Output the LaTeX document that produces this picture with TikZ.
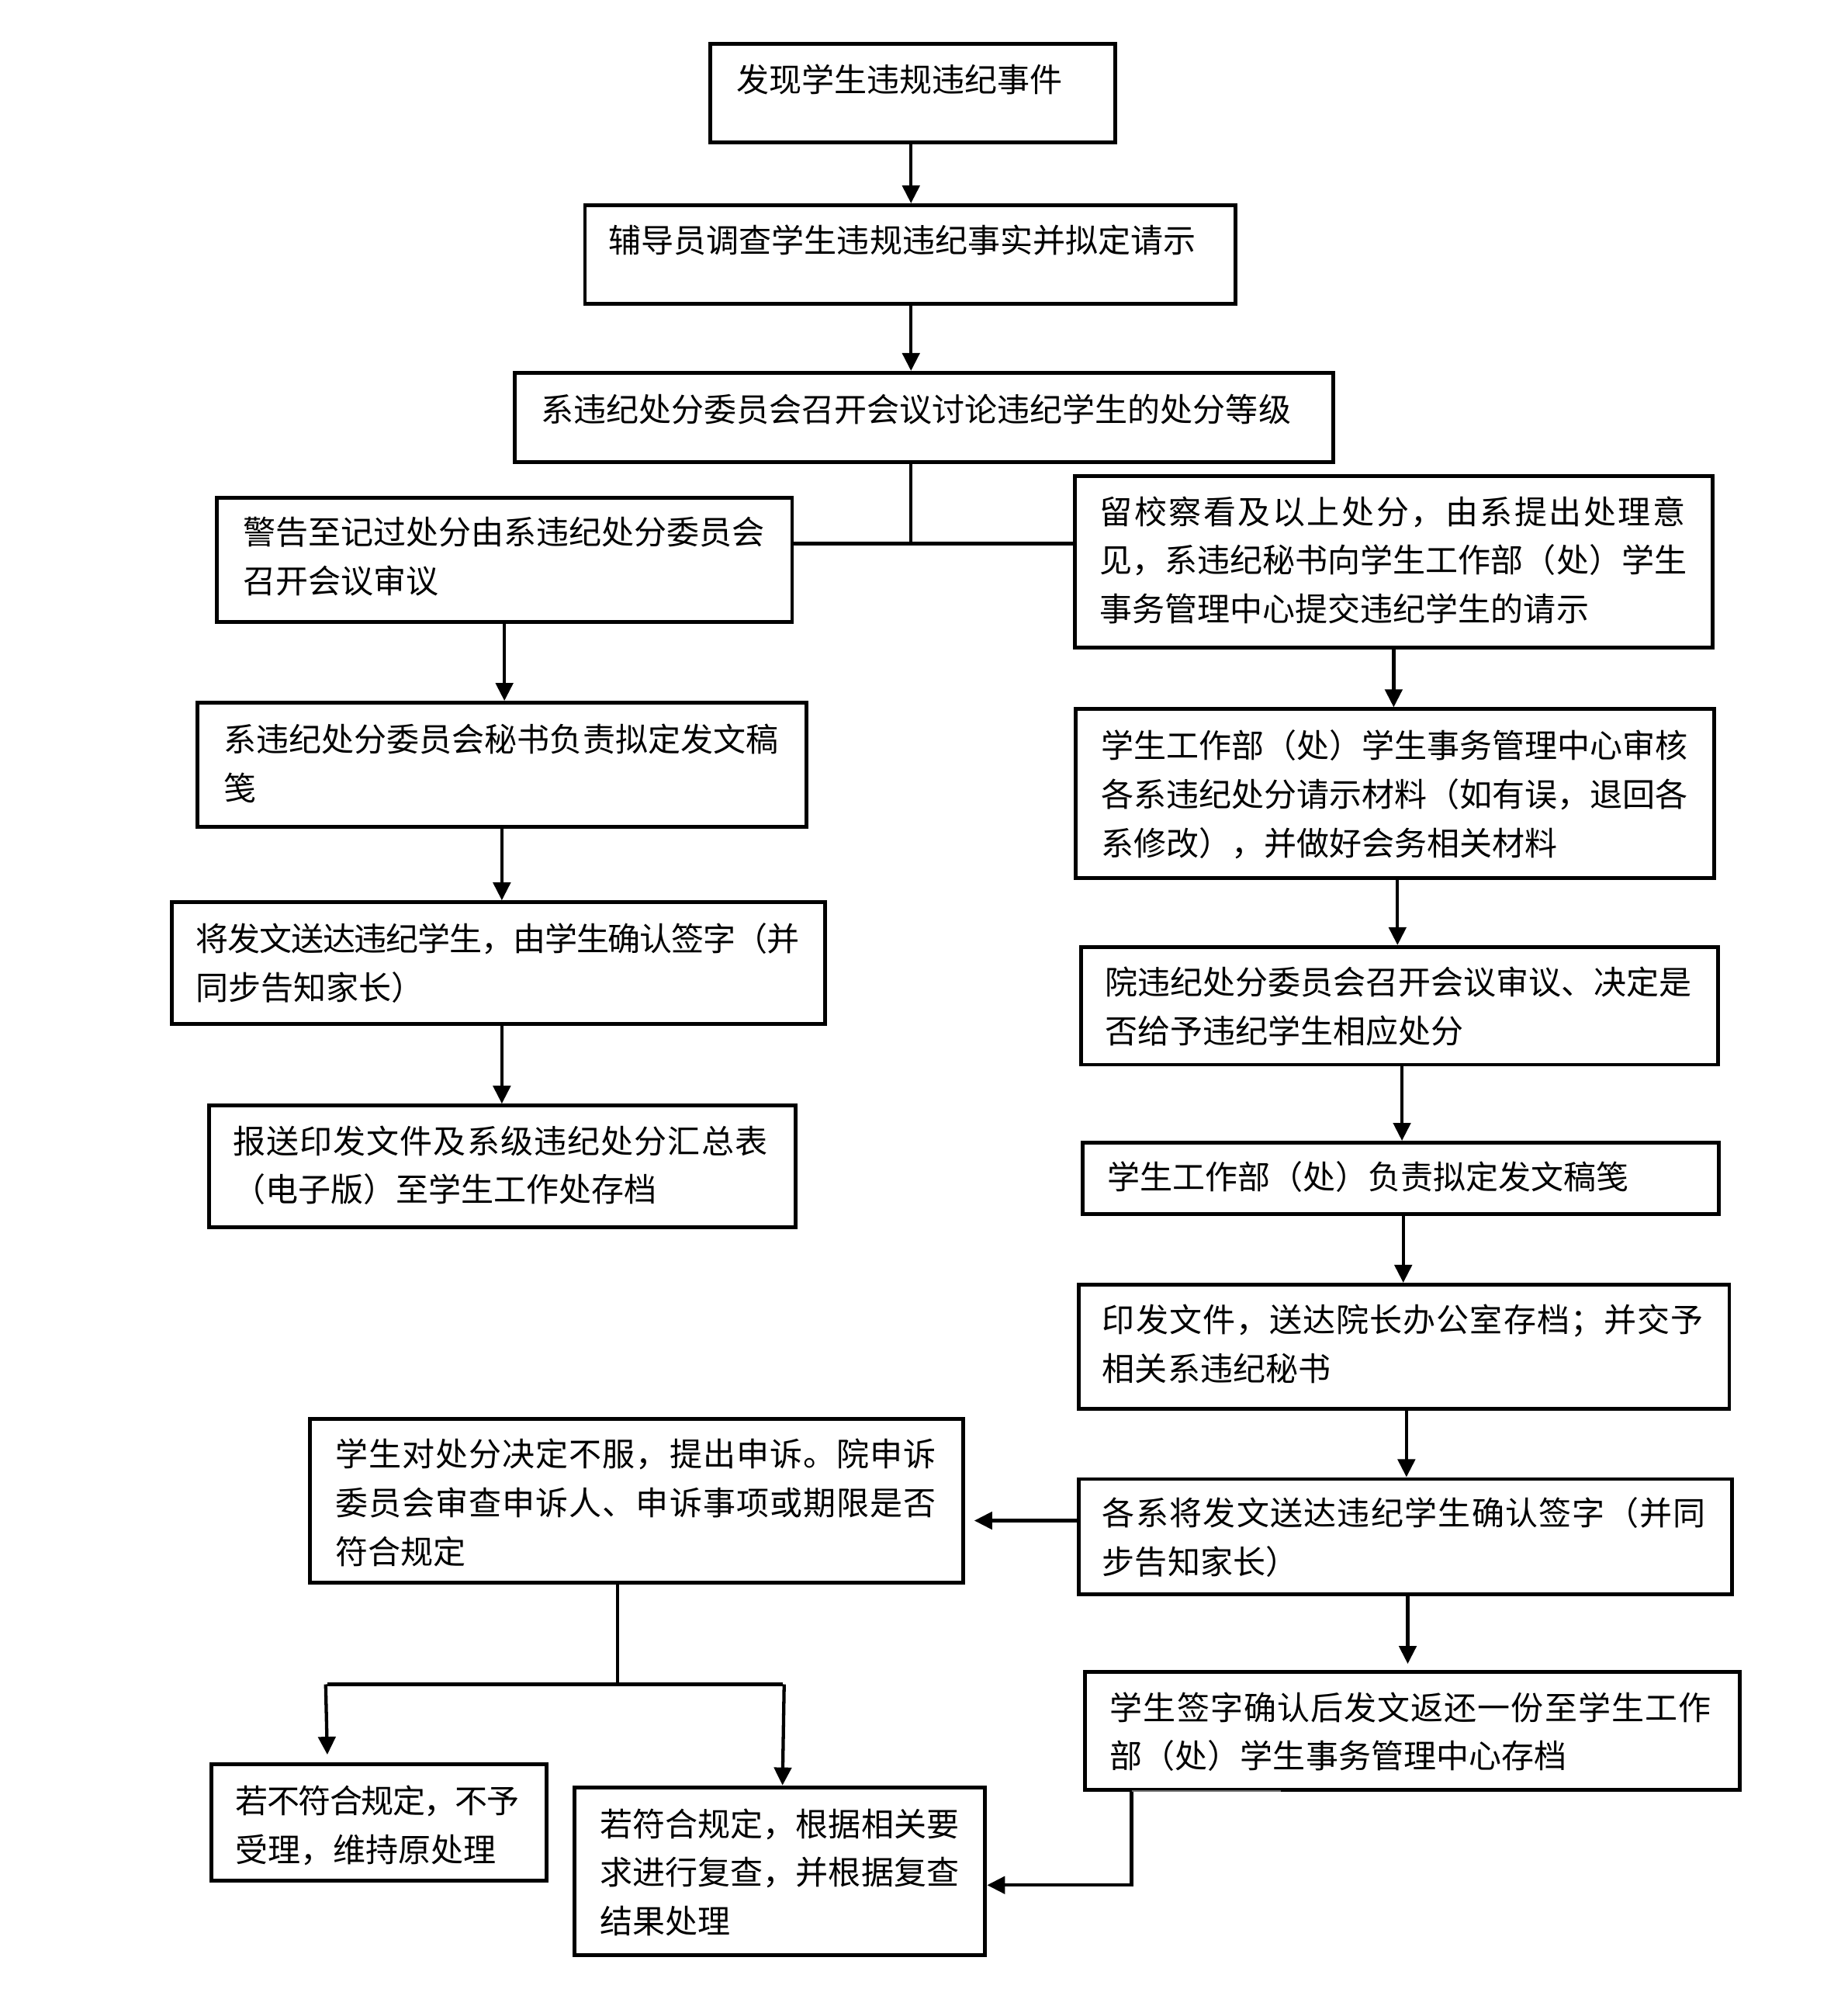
\documentclass[tikz,border=0pt]{standalone}
\usepackage{fontspec}
\setmainfont{Noto Sans CJK SC}
\usetikzlibrary{arrows.meta}
\tikzset{
  box/.style={draw, line width=3pt, inner sep=0pt, anchor=north west},
  txt/.style={anchor=base west, inner sep=0pt, font=\fontsize{25.5pt}{38pt}\selectfont},
  conn/.style={line width=2.6pt},
  arr/.style={conn, -{Triangle[length=14pt,width=13.5pt]}},
}
\makeatletter
\def\my@spr#1{\ifx\relax#1\else#1\hskip0pt plus 1fil minus 1fil\expandafter\my@spr\fi}
\newcommand\jl[2]{\hbox to #1pt{\my@spr#2\relax\unskip}}
\makeatother
\newcommand\bx[5]{\node[box,minimum width=#4pt,minimum height=#5pt] (#1) at (#2,#3) {};}
\newcommand\tl[4]{\node[txt] (#1) at (#2,#3) {#4};}
\begin{document}
\begin{tikzpicture}[x=1pt,y=-1pt]
\path[use as bounding box, fill=white] (0,0) rectangle (1444.8,1557.6);
% boxes
\bx{b1}{554}{33}{317}{77}
\bx{b2}{456}{159}{509}{77}
\bx{b3}{401}{290}{640}{70}
\bx{b4}{168}{388}{450}{97}
\bx{b5}{839}{371}{499}{134}
\bx{b6}{153}{548}{476}{97}
\bx{b7}{133}{704}{511}{95}
\bx{b8}{162}{863}{459}{95}
\bx{b9}{840}{553}{499}{132}
\bx{b10}{844}{739}{498}{92}
\bx{b11}{845}{892}{498}{56}
\bx{b12}{842}{1003}{509}{97}
\bx{b13}{842}{1155}{511}{90}
\bx{b14}{847}{1306}{512}{92}
\bx{b15}{241}{1108}{511}{128}
\bx{b16}{164}{1378}{262}{91}
\bx{b17}{448}{1396}{321}{131}
% texts
\tl{t1}{576}{71.7}{发现学生违规违纪事件}
\tl{t2}{476}{197.7}{辅导员调查学生违规违纪事实并拟定请示}
\tl{t3}{423}{329.7}{系违纪处分委员会召开会议讨论违纪学生的处分等级}
\tl{t4a}{190}{425.7}{警告至记过处分由系违纪处分委员会}
\tl{t4b}{190}{463.7}{召开会议审议}
\tl{t5a}{860}{409.7}{\jl{458}{留校察看及以上处分，由系提出处理意}}
\tl{t5b}{860}{447.7}{见，系违纪秘书向学生工作部（处）学生}
\tl{t5c}{860}{485.7}{事务管理中心提交违纪学生的请示}
\tl{t6a}{175}{587.7}{系违纪处分委员会秘书负责拟定发文稿}
\tl{t6b}{175}{625.7}{笺}
\tl{t7a}{153}{743.7}{\jl{472}{将发文送达违纪学生，由学生确认签字（并}}
\tl{t7b}{153}{781.7}{同步告知家长）}
\tl{t8a}{182}{901.7}{\jl{418}{报送印发文件及系级违纪处分汇总表}}
\tl{t8b}{182}{939.7}{（电子版）至学生工作处存档}
\tl{t9a}{861}{592.7}{学生工作部（处）学生事务管理中心审核}
\tl{t9b}{861}{630.7}{各系违纪处分请示材料（如有误，退回各}
\tl{t9c}{861}{668.7}{系修改），并做好会务相关材料}
\tl{t10a}{864}{777.7}{院违纪处分委员会召开会议审议、决定是}
\tl{t10b}{864}{815.7}{否给予违纪学生相应处分}
\tl{t11}{866}{929.7}{学生工作部（处）负责拟定发文稿笺}
\tl{t12a}{862}{1041.7}{\jl{470}{印发文件，送达院长办公室存档；并交予}}
\tl{t12b}{862}{1079.7}{相关系违纪秘书}
\tl{t13a}{862}{1192.7}{\jl{472}{各系将发文送达违纪学生确认签字（并同}}
\tl{t13b}{862}{1230.7}{步告知家长）}
\tl{t14a}{868}{1344.7}{\jl{470}{学生签字确认后发文返还一份至学生工作}}
\tl{t14b}{868}{1382.7}{部（处）学生事务管理中心存档}
\tl{t15a}{262}{1146.7}{\jl{470}{学生对处分决定不服，提出申诉。院申诉}}
\tl{t15b}{262}{1184.7}{\jl{470}{委员会审查申诉人、申诉事项或期限是否}}
\tl{t15c}{262}{1222.7}{符合规定}
\tl{t16a}{184}{1417.7}{\jl{222}{若不符合规定，不予}}
\tl{t16b}{184}{1455.7}{受理，维持原处理}
\tl{t17a}{469}{1435.7}{\jl{281}{若符合规定，根据相关要}}
\tl{t17b}{469}{1473.7}{\jl{281}{求进行复查，并根据复查}}
\tl{t17c}{469}{1511.7}{结果处理}
% helper coordinates
\coordinate (xc) at (712.5,0);
\coordinate (j) at (712.5,425);
\coordinate (s1) at (483,1317);
\coordinate (s2) at (256,1317);
\coordinate (s3) at (612,1317);
\coordinate (e16) at (256,1372);
\coordinate (r1) at (885,1474);
\coordinate (r2) at (1002,1400.5);
\coordinate (a13) at (762,1189);
% connectors
\draw[arr] (b1.south -| xc) -- (b2.north -| xc);
\draw[arr] (b2.south -| xc) -- (b3.north -| xc);
\draw[conn] (b3.south -| j) -- (j);
\draw[conn] (b4.east |- j) -- (b5.west |- j);
\draw[arr] (b4.south) -- (b4.south |- b6.north);
\draw[arr] (b6.south) -- (b6.south |- b7.north);
\draw[arr] (b7.south -| b6.south) -- (b6.south |- b8.north);
\draw[arr] (b5.south) -- (b5.south |- b9.north);
\draw[arr] ([xshift=2pt]b9.south) -- ([xshift=2pt]b9.south |- b10.north);
\draw[arr] ([xshift=2pt]b10.south) -- ([xshift=2pt]b10.south |- b11.north);
\draw[arr] ([xshift=2pt]b11.south) -- ([xshift=2pt]b11.south |- b12.north);
\draw[arr] ([xshift=2pt]b12.south) -- ([xshift=2pt]b12.south |- b13.north);
\draw[arr] ([xshift=2pt]b13.south) -- ([xshift=2pt,yshift=5pt]b13.south |- b14.north);
\draw[arr] (b13.west |- a13) -- (a13);
\draw[conn] (b15.south -| s1) -- (s1);
\draw[conn] (s2) -- (s3);
\draw[arr] ([xshift=-1.3pt]s2) -- (e16);
\draw[arr] ([xshift=1.3pt]s3) -- (s3 |- b17.north);
\draw[arr] (b14.south -| r1) -- (r1) -- (b17.east |- r1);
\draw[line width=1.2pt, black!55] (r1 |- r2) -- (r2);
\end{tikzpicture}
\end{document}
